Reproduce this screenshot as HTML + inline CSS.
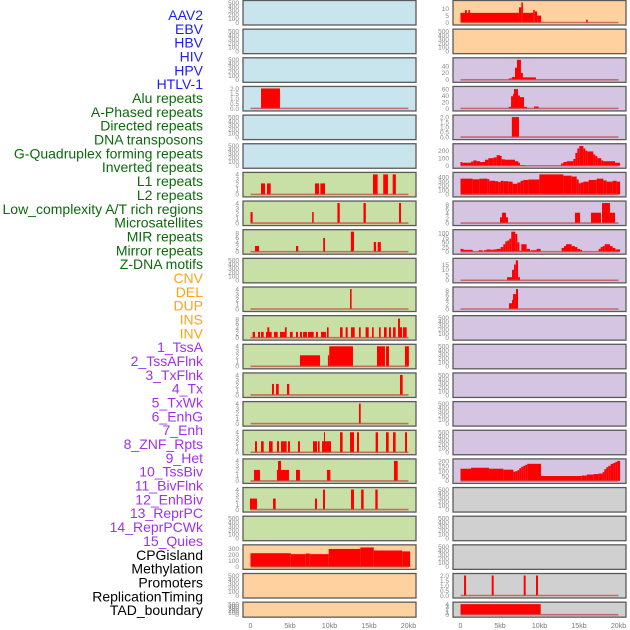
<!DOCTYPE html>
<html><head><meta charset="utf-8">
<style>
html,body{margin:0;padding:0;background:#fff;}
body{width:630px;height:630px;overflow:hidden;position:relative;font-family:"Liberation Sans",sans-serif;}
svg{position:absolute;left:0;top:0;}
</style></head>
<body>
<svg id="chart" width="630" height="630"></svg>
<script>
// ---- labels ----
const labels = ["AAV2","EBV","HBV","HIV","HPV","HTLV-1","Alu repeats","A-Phased repeats","Directed repeats","DNA transposons","G-Quadruplex forming repeats","Inverted repeats","L1 repeats","L2 repeats","Low_complexity A/T rich regions","Microsatellites","MIR repeats","Mirror repeats","Z-DNA motifs","CNV","DEL","DUP","INS","INV","1_TssA","2_TssAFlnk","3_TxFlnk","4_Tx","5_TxWk","6_EnhG","7_Enh","8_ZNF_Rpts","9_Het","10_TssBiv","11_BivFlnk","12_EnhBiv","13_ReprPC","14_ReprPCWk","15_Quies","CPGisland","Methylation","Promoters","ReplicationTiming","TAD_boundary"];
const labelGroups = ["virus","virus","virus","virus","virus","virus","rep","rep","rep","rep","rep","rep","rep","rep","rep","rep","rep","rep","rep","sv","sv","sv","sv","sv","chrom","chrom","chrom","chrom","chrom","chrom","chrom","chrom","chrom","chrom","chrom","chrom","chrom","chrom","chrom","other","other","other","other","other"];
const xTickLabels = ["0","5kb","10kb","15kb","20kb"];
const xTickValues = [0,5,10,15,20];

// ---- per-panel ticks ----
const T500=[0,100,200,300,400,500], T4=[0,1,2,3,4], T8=[0,2,4,6,8], T2=[0.0,0.5,1.0,1.5,2.0];
const panelTicks = [
 T500,T500,T500,T2,T500,T500,T4,T4,T8,T500,T4,T8,T4,T4,T4,T4,T4,T4,T500,[0,100,200,300],T500,T500,
 [0,5,10],T500,[0,20,40],[0,20,40,60],T2,[0,100,200],[0,100,200,300,400],T8,[0,25,50,75,100],[0,5,10,15],T8,T500,T500,T500,T500,T500,[0,50,100,150,200],T500,T500,T500,T2,T4];
const panelMax = [500,500,500,2,500,500,4,4,8.7,500,4,8.7,4,4,4,4,4,4,500,330,500,500,
 14.5,500,58,62,2,265,470,8.7,107,19,8.7,500,500,500,500,500,205,500,500,500,2,4];

// ---- data segments [startKb, endKb, value] ----
const d_HIV=[[1.33,3.73,2]];
const d_Alu=[[1.33,1.84,2.2],[2.09,2.56,2.2],[8.16,8.67,2.2],[8.84,9.43,2.2],[15.5,16.1,4],[16.8,17.4,4],[18.0,18.4,4]];
const d_APh=[[0,0.27,2.2],[7.8,8.0,2.2],[11.0,11.3,4],[14.3,14.6,4],[18.8,19.05,4]];
const d_Dir=[[0.57,1.08,2.5],[5.76,6.05,2.5],[9.2,9.43,6],[12.7,13.1,8.7],[15.6,15.9,4.2],[16.1,16.5,4.2]];
const d_GQ=[[12.6,12.8,4]];
const d_Inv=[[0.27,0.57,2.5],[0.95,1.2,2.5],[1.33,1.67,2.5],[1.96,2.68,2.5],[2.13,2.38,4.5],[2.97,3.44,2.5],[3.73,4.49,2.5],[4.36,4.58,4.5],[5.0,5.34,2.5],[5.76,6.01,2.5],[6.26,6.52,2.5],[6.65,7.15,2.5],[7.28,8.0,2.5],[8.29,8.54,2.5],[8.92,9.55,2.5],[9.68,9.89,4.5],[11.33,11.66,4.5],[12.04,12.3,4.5],[12.72,13.19,4.5],[13.73,13.95,4.5],[14.57,14.96,4.5],[15.38,15.59,4.5],[16.27,16.48,4.5],[16.9,17.24,4.5],[17.53,17.78,4.5],[18.04,18.37,4.5],[18.67,18.92,8.3],[18.92,19.18,4.5],[19.3,19.77,4.5]];
const d_L1=[[6.26,8.8,2.2],[9.8,9.97,2.2],[9.97,12.97,4],[16.01,17.02,4],[17.15,17.53,4],[19.55,20.05,4]];
const d_L2=[[2.72,2.97,2.2],[3.23,3.57,2.2],[4.62,4.91,2.2],[18.92,19.26,4]];
const d_Low=[[13.73,13.95,4]];
const d_Mic=[[0.57,0.82,2.2],[1.33,1.67,2.2],[2.34,2.8,2.2],[3.35,3.61,2.2],[3.86,4.58,2.2],[4.75,5.0,2.2],[6.01,6.26,2.2],[7.91,8.42,2.2],[8.54,8.75,2.2],[9.05,10.19,2.2],[9.3,9.43,4],[11.33,11.66,4],[12.59,13.1,4],[13.48,13.73,4],[15.84,16.14,4],[17.15,17.49,4],[18.04,18.37,4],[19.56,19.81,4]];
const d_MIR=[[0.44,1.2,2.2],[3.35,4.87,2.2],[3.48,3.86,4],[5.76,6.26,2.2],[9.68,10.11,2.2],[18.16,18.63,4]];
const d_Mir=[[-0.07,0.82,2.2],[2.85,3.19,2.2],[8.16,8.42,2.2],[9.18,9.43,4],[12.72,13.1,4],[14.0,14.32,4],[15.8,16.1,4]];
const d_CNV=[[0,5.1,225],[5.1,7.0,210],[7.0,7.5,220],[7.5,9.9,210],[9.9,13.9,295],[13.9,15.6,320],[15.6,19.2,270],[19.2,20.2,255]];
const d_INS=[[0,7.4,7],[0.57,0.8,9],[1.0,1.2,9],[7.4,7.7,11],[7.7,7.9,14.5],[7.9,9.2,7],[9.2,9.4,9],[9.4,9.7,8],[9.7,10.2,5],[15.9,16.1,2]];
const d_TssA=[[6.1,6.5,4],[6.5,6.9,8],[6.9,7.15,35],[7.15,7.65,58],[7.65,7.9,20],[7.9,9.55,7]];
const d_TssAF=[[6.1,6.4,5],[6.4,6.65,38],[6.65,6.77,45],[6.77,7.28,60],[7.28,7.53,40],[7.53,8.04,35],[8.04,8.42,5],[9.3,9.9,6]];
const d_TxF=[[6.5,7.4,2]];
const d_Tx=[[0,0.23,50],[0.23,1.33,40],[1.33,1.62,55],[1.62,2.05,70],[2.05,2.47,60],[2.47,3.1,50],[3.1,3.52,80],[3.52,4.16,100],[4.16,4.58,110],[4.58,5.0,140],[5.0,5.21,130],[5.21,5.63,85],[5.63,6.9,80],[6.9,7.32,60],[7.32,7.53,40],[7.53,8.16,10],[12.72,13.02,30],[13.02,13.44,50],[13.44,14.28,60],[14.28,14.54,90],[14.54,14.79,170],[14.79,15.04,230],[15.04,15.55,262],[15.55,15.8,230],[15.8,16.05,200],[16.05,16.81,190],[16.81,17.06,150],[17.06,17.32,130],[17.32,17.82,100],[17.82,18.08,70],[18.08,19.56,60],[19.56,20.2,40]];
const d_TxWk=[[0,1.54,370],[1.54,2.38,355],[2.38,3.4,370],[3.4,3.65,360],[3.65,4.37,320],[4.37,4.79,310],[4.79,5.08,290],[5.08,5.42,320],[5.42,6.05,310],[6.05,6.6,300],[6.6,7.19,250],[7.19,7.61,280],[7.61,7.95,320],[7.95,8.59,340],[8.59,9.98,350],[9.98,13.02,470],[13.02,14.07,440],[14.07,14.71,420],[14.71,14.96,350],[14.96,15.21,260],[15.21,15.55,280],[15.55,16.22,300],[16.22,17.24,340],[17.24,18.08,370],[18.08,18.5,330],[18.5,19.26,300],[19.26,19.77,320],[19.77,20.2,300]];
const d_EnhG=[[5.0,5.25,2.5],[5.25,5.76,4.5],[5.76,6.01,2.5],[14.49,15.13,4.5],[16.52,17.78,4.5],[17.91,18.92,8.7],[18.92,19.56,4.5]];
const d_Enh=[[0,0.38,15],[0.38,1.54,10],[2.3,2.8,8],[2.97,3.31,8],[3.31,3.82,12],[3.82,4.16,10],[4.16,4.58,12],[4.58,5.08,15],[5.08,5.42,25],[5.42,5.67,40],[5.67,5.93,55],[5.93,6.18,60],[6.18,6.43,70],[6.43,6.94,107],[6.94,7.19,95],[7.19,7.45,50],[7.45,7.7,5],[7.7,8.37,40],[8.37,8.8,15],[8.88,9.64,8],[9.64,10.15,15],[12.8,13.1,20],[13.1,13.35,30],[13.35,14.07,40],[14.07,14.49,30],[14.49,14.79,25],[14.79,15.13,15],[15.13,15.38,10],[17.49,17.74,15],[17.74,17.99,25],[17.99,18.25,30],[18.25,18.92,40],[18.92,19.26,30],[19.26,19.6,20],[19.6,20.2,12]];
const d_ZNF=[[5.89,6.52,3],[6.52,6.77,10],[6.77,7.0,15],[7.0,7.28,19],[7.28,7.53,3]];
const d_Het=[[6.14,6.52,2.5],[6.52,6.65,4],[6.65,7.02,6.5],[7.02,7.28,8.7]];
const d_Quies=[[0,1.33,125],[1.33,3.61,135],[3.61,5.42,125],[5.42,6.69,115],[6.69,6.94,95],[6.94,7.19,100],[7.19,7.45,110],[7.45,7.7,130],[7.7,7.95,145],[7.95,8.2,155],[8.2,8.46,165],[8.46,10.19,175],[10.19,15.34,50],[15.34,15.97,55],[15.97,16.81,65],[16.81,17.45,70],[17.45,17.99,75],[17.99,18.2,90],[18.2,18.46,120],[18.46,18.71,140],[18.71,19.01,155],[19.01,19.35,175],[19.35,19.6,185],[19.6,19.85,195],[19.85,20.2,205]];
const d_Rep=[[0.45,0.7,2],[3.95,4.2,2],[8.0,8.25,2],[9.56,9.81,2]];
const d_TAD=[[0,10.15,4]];

const panelData = [null,null,null,d_HIV,null,null,d_Alu,d_APh,d_Dir,null,d_GQ,d_Inv,d_L1,d_L2,d_Low,d_Mic,d_MIR,d_Mir,null,d_CNV,null,null,
 d_INS,null,d_TssA,d_TssAF,d_TxF,d_Tx,d_TxWk,d_EnhG,d_Enh,d_ZNF,d_Het,null,null,null,null,null,d_Quies,null,null,null,d_Rep,d_TAD];

const bgColors = {virus:"#c8e4ec",rep:"#c8e0a6",sv:"#fed19f",chrom:"#d5c5e2",other:"#d0d0d0"};
const txtColors = {virus:"#1c1cff",rep:"#0b6b0b",sv:"#ffa31a",chrom:"#a030f0",other:"#000"};

const NS="http://www.w3.org/2000/svg";
const svg=document.getElementById('chart');
function mk(tag,attrs,parent){const e=document.createElementNS(NS,tag);for(const k in attrs)e.setAttribute(k,attrs[k]);(parent||svg).appendChild(e);return e;}

// labels
labels.forEach((t,i)=>{
  const e=mk('text',{x:203,y:15+i*13.84+5,'text-anchor':'end','font-size':'14',fill:txtColors[labelGroups[i]],'font-family':'"Liberation Sans",sans-serif'});
  e.textContent=t;
  
  
});

const colX=[243,453];
const PW=173;
function xScale(col,kb){return colX[col]+7.5+kb*7.9;}

for(let p=0;p<44;p++){
  const col=p<22?0:1, k=p%22;
  const top=0.5+28.65*k, h=(k===21)?15:24.5;
  const g=mk('g',{});
  
  
  mk('rect',{x:colX[col],y:top,width:PW,height:h,fill:bgColors[labelGroups[p]],stroke:'#5a5a5a','stroke-width':1.3},g);
  const y0=top+h-2.5, y1=top+2;
  const ymax=panelMax[p];
  const yS=v=>y0-(v/ymax)*(y0-y1);
  const tickMax=panelTicks[p][panelTicks[p].length-1];
  panelTicks[p].forEach(tv=>{
    const ty=y0-(tv/(p===panelMax.indexOf(500)&&false?1:Math.max(tickMax,ymax>=500?500:ymax)))*(y0-y1);
    const lab=mk('text',{x:colX[col]-4,y:yS(tv)+2.3,'text-anchor':'end','font-size':'6.5',fill:'#888'},g);
    lab.textContent=(panelTicks[p]===T2)?tv.toFixed(1):String(tv);
    
    
  });
  const data=panelData[p];
  if(data){
    data.forEach(s=>{
      const xa=xScale(col,Math.max(s[0],-0.1)), xb=xScale(col,Math.min(s[1],20.25));
      const yv=yS(Math.min(s[2],ymax));
      const r=mk('rect',{x:xa,y:yv,width:Math.max(xb-xa,1),height:y0-yv,fill:'#ff0000'},g);
      
      
    });
    const bl=mk('line',{x1:xScale(col,0),x2:xScale(col,20),y1:y0,y2:y0,stroke:'#c04848','stroke-width':1.6,'stroke-opacity':0.75},g);
    
    
  }
}
// x ticks
[0,1].forEach(col=>{
  xTickValues.forEach((v,i)=>{
    const t=mk('text',{x:xScale(col,v),y:628,'text-anchor':'middle','font-size':'7',fill:'#777'});
    t.textContent=xTickLabels[i];
    
    
  });
});
</script>
</body></html>
